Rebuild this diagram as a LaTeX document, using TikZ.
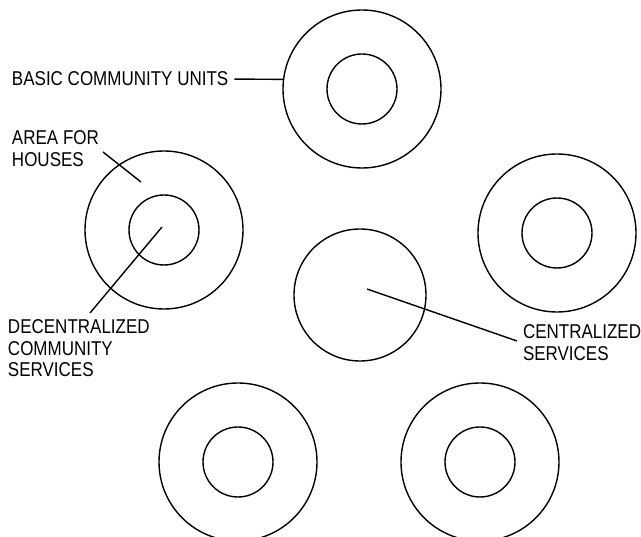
\documentclass[tikz,border=0pt]{standalone}
\usepackage{fontspec}
\setmainfont{Liberation Sans}[FakeStretch=0.85]
\begin{document}
\begin{tikzpicture}[x=1pt,y=-1pt,
  ring/.style={circle,draw,line width=1.4pt,inner sep=0pt,outer sep=0pt},
  outerring/.style={ring,minimum size=158pt},
  innerring/.style={ring,minimum size=70pt},
  hubring/.style={ring,minimum size=132pt},
  lbl/.style={anchor=north west,inner sep=0pt,outer sep=0pt,align=left,font=\fontsize{20}{21.5}\selectfont},
  lead/.style={line width=1.4pt}]
\useasboundingbox (0,0) rectangle (641,537);
\fill[white] (0,0) rectangle (641,537);
% community units (pentagon around the centre)
\node[outerring] (topout) at (362,89) {};
\node[innerring] (topin) at (362,89) {};
\node[outerring] (leftout) at (164,230) {};
\node[innerring] (leftin) at (164,230) {};
\node[outerring] (rightout) at (557,233) {};
\node[innerring] (rightin) at (557,233) {};
\node[outerring] (blout) at (238,462) {};
\node[innerring] (blin) at (238,462) {};
\node[outerring] (brout) at (480,462) {};
\node[innerring] (brin) at (480,462) {};
% centralized services
\node[hubring] (hub) at (360,295) {};
% labels
\node[lbl] (basic) at (12,72) {BASIC COMMUNITY UNITS};
\node[lbl] (houses) at (12,131) {AREA FOR\\HOUSES};
\node[lbl] (decent) at (8,320) {DECENTRALIZED\\COMMUNITY\\SERVICES};
\node[lbl] (central) at (523,325) {CENTRALIZED\\SERVICES};
% leader lines
\draw[lead] ([xshift=6pt]basic.east) -- (topout.173);
\coordinate (housesA) at (103,152);
\coordinate (housesB) at (141,182);
\draw[lead] (housesA) -- (housesB);
\coordinate (decentA) at (162,227);
\coordinate (decentB) at (90,313);
\draw[lead] (decentA) -- (decentB);
\coordinate (centralA) at (367,289);
\coordinate (centralB) at (517,341);
\draw[lead] (centralA) -- (centralB);
\end{tikzpicture}
\end{document}
